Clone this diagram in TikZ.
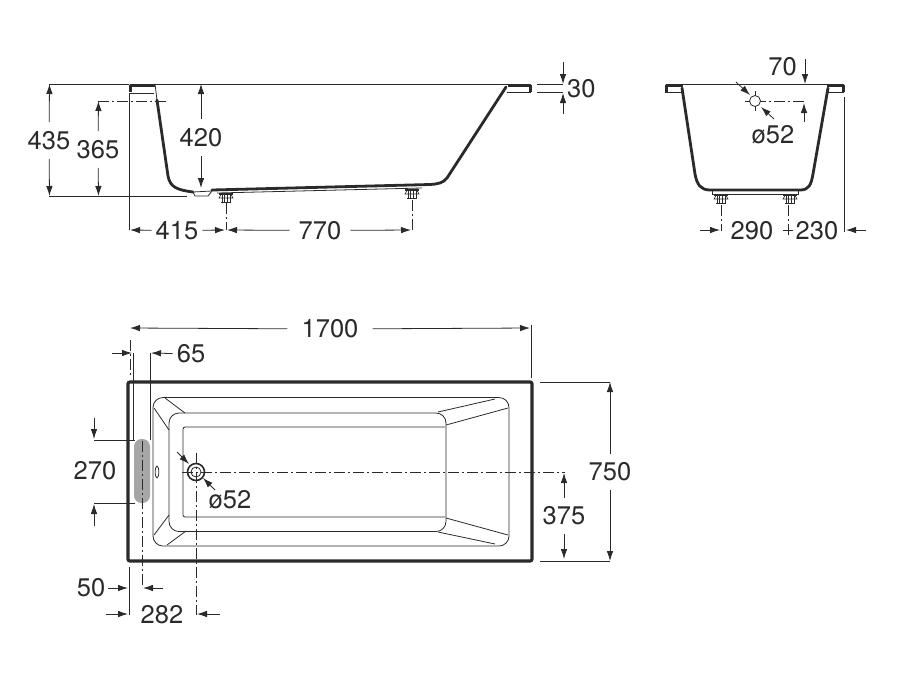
\documentclass[tikz,border=0pt]{standalone}
\usepackage{fontspec}
\setmainfont{TeX Gyre Heros}
\usetikzlibrary{arrows.meta}
\definecolor{inkline}{HTML}{2B2A29}
\definecolor{gripgray}{HTML}{A6A6A8}

\begin{document}
\begin{tikzpicture}[
    x=1pt, y=-1pt, color=inkline,
    thinline/.style={line width=0.8pt},
    hairline/.style={line width=0.6pt},
    wall/.style={line width=2.8pt, line cap=round},
    rim/.style={line width=3pt, line join=round},
    border/.style={line width=3.2pt, rounded corners=2pt},
    centerline/.style={line width=0.8pt, dash pattern=on 11pt off 3pt on 2pt off 3pt},
    dimarrow/.style={line width=0.8pt, -{Latex[length=10pt,width=6.5pt]}},
    dimlabel/.style={font=\fontsize{25.5}{25.5}\selectfont, inner xsep=4pt, inner ysep=9pt},
    bolt/.pic={
        \fill (-7,0) rectangle (7,1.5);
        \draw[hairline] (-5,1.5) -- (-7,5) -- (7,5) -- (5,1.5);
        \foreach \dx in {-4,-1.5,1.5,4} {\draw[hairline] (\dx,2) -- (\dx,9);}
        \draw[hairline] (-5,9) -- (5,9);
    }
]
\useasboundingbox (0,0) rectangle (912,681);

% Side view
\draw[rim] (155,85) -- (130,85) -- (130,92);
\draw[thinline] (129,93) -- (154,93);
\draw[thinline] (49,84) -- (129,84);
\draw[thinline] (155,84) -- (508,84);
\draw[thinline] (155,84) -- (157,100);
\draw[wall] (157,100) -- (168,176) .. controls (170,187) and (177,190) .. (193,192);
\draw[thinline] (193,192) -- (195,196) -- (208,196) -- (212,191);
\draw[thinline] (193,192) -- (212,191);
\draw[wall] (212,190) -- (430,184.5) .. controls (438,184) and (443,183) .. (447,178) -- (506,87);
\draw[rim] (508,85) -- (530.5,85) -- (530.5,92);
\draw[thinline] (507,92) -- (531,92);
\draw[thinline] (217,193) -- (422,188);
\pic at (226,193) {bolt};
\pic at (412,189) {bolt};

% End view
\draw[rim] (683,85) -- (666,85) -- (666,92);
\draw[thinline] (665,92) -- (682,92);
\draw[thinline] (683,84) -- (827,84);
\draw[wall] (682,88) -- (695,174) .. controls (697,185) and (701,190) .. (710,190) -- (800,190) .. controls (809,190) and (811,185) .. (813,174) -- (828,88);
\draw[rim] (827,85) -- (843.5,85) -- (843.5,92);
\draw[thinline] (828,92) -- (844,92);
\draw[thinline] (712,190) -- (712,194) -- (798,194) -- (798,190);
\pic at (721,194) {bolt};
\pic at (790,194) {bolt};

% Plan view
\draw[border] (128,382) rectangle (532,561);
\draw[thinline, rounded corners=10pt] (153,397.5) rectangle (509,546);
\draw[thinline, rounded corners=10pt] (169,413) rectangle (446,531.5);
\draw[thinline, rounded corners=2pt] (445,427) -- (183,427) -- (183,517) -- (445,517);
\draw[thinline] (165,398) -- (185,413);
\draw[thinline] (154,408) -- (169,430);
\draw[thinline] (154,535) -- (169,515);
\draw[thinline] (167,545) -- (186,531);
\draw[thinline] (438,412) -- (495,399);
\draw[thinline] (446,425) -- (508,408);
\draw[thinline] (446,518) -- (508,535);
\draw[thinline] (438,532) -- (495,544);
\draw[thinline] (157,472) ellipse[x radius=1.8pt, y radius=6pt];
\fill[gripgray, rounded corners=7.5pt] (134,439) rectangle (150,503);
\draw[line width=1.6pt] (196,472) circle[radius=8.5pt];
\draw[thinline] (196,472) circle[radius=5pt];

% Center lines
\draw[centerline] (98,101) -- (167,101);
\draw[centerline] (226,203) -- (226,230);
\draw[centerline] (412,200) -- (412,231);
\draw[centerline] (721,205) -- (721,231);
\draw[centerline] (788,205) -- (788,236);
\draw[centerline] (755,101) -- (806,101);
\draw[thinline] (745,101) -- (765,101);
\draw[thinline] (755,91) -- (755,111);
\draw[thinline, fill=white] (755,101) circle[radius=5.5pt];
\draw[centerline] (182,472) -- (565,472);
\draw[centerline] (196,453) -- (196,615);
\draw[centerline] (142,441) -- (142,585);
\draw[centerline] (130,340) -- (130,377);

% Extension lines
\draw[thinline] (129,93) -- (129,230);
\draw[thinline] (49,196) -- (187,196);
\draw[thinline] (537,84) -- (563,84);
\draw[thinline] (537,92) -- (563,92);
\draw[thinline] (783,230) -- (793,230);
\draw[thinline] (844,97) -- (844,232);
\draw[thinline] (133,353) -- (133,440);
\draw[thinline] (150,353) -- (150,440);
\draw[thinline] (94,440) -- (135,440);
\draw[thinline] (94,503) -- (135,503);
\draw[thinline] (129,567) -- (129,615);
\draw[thinline] (531,325) -- (531,378);
\draw[thinline] (540,382) -- (610,382);
\draw[thinline] (540,561) -- (610,561);

% Labels, side view
\node[dimlabel] (len435) at (49,140.5) {435};
\node[dimlabel] (len365) at (98,149.5) {365};
\node[dimlabel] (len420) at (201,137.5) {420};
\node[dimlabel] (len415) at (177,230.5) {415};
\node[dimlabel, inner xsep=9pt] (len770) at (320,230.5) {770};
\node[dimlabel, anchor=west, inner xsep=0pt] (len30) at (567,89) {30};

% Labels, end view
\node[dimlabel, anchor=east, inner xsep=0pt] (len70) at (797,67) {70};
\node[dimlabel] (dia52a) at (773,135) {ø52};
\node[dimlabel] (len290) at (752,230.5) {290};
\node[dimlabel] (len230) at (817,230.5) {230};

% Labels, plan view
\node[dimlabel, inner xsep=14pt] (len1700) at (330,329) {1700};
\node[dimlabel] (len65) at (191,354) {65};
\node[dimlabel] (len270) at (95,471) {270};
\node[dimlabel] (dia52b) at (230,500) {ø52};
\node[dimlabel] (len50) at (91,588) {50};
\node[dimlabel] (len282) at (162,615) {282};
\node[dimlabel] (len750) at (610,472) {750};
\node[dimlabel] (len375) at (564,516) {375};

% Arrows, side view
\draw[dimarrow] (len435) -- (49.5,84);
\draw[dimarrow] (len435) -- (49.5,196);
\draw[dimarrow] (len365) -- (98.5,101);
\draw[dimarrow] (len365) -- (98.5,196);
\draw[dimarrow] (len420) -- (201,84);
\draw[dimarrow] (len420) -- (201,188);
\draw[dimarrow] (len415) -- (130,230);
\draw[dimarrow] (len415) -- (225,230);
\draw[dimarrow] (len770) -- (227,230);
\draw[dimarrow] (len770) -- (411,230);
\draw[dimarrow] (563,62) -- (563,84);
\draw[dimarrow] (563,114) -- (563,93);

% Arrows, end view
\draw[dimarrow] (805,59) -- (805,84);
\draw[dimarrow] (804,122) -- (804,103);
\draw[dimarrow] (736,82) -- (750,95);
\draw[dimarrow] (774,119) -- (761,107);
\draw[dimarrow] (700,230) -- (720,230);
\draw[dimarrow] (866,230) -- (846,230);

% Arrows, plan view
\draw[dimarrow] (len1700) -- (130,328);
\draw[dimarrow] (len1700) -- (530,328);
\draw[dimarrow] (112,353) -- (132,353);
\draw[dimarrow] (len65) -- (151,353);
\draw[dimarrow] (94,418) -- (94,439);
\draw[dimarrow] (94,526) -- (94,504);
\draw[dimarrow] (177,452) -- (189,464);
\draw[dimarrow] (215,490) -- (203,478);
\draw[dimarrow] (108,588) -- (128,588);
\draw[dimarrow] (163,588) -- (143,588);
\draw[dimarrow] (106,614) -- (128,614);
\draw[dimarrow] (220,614) -- (197,614);
\draw[dimarrow] (len750) -- (610,382);
\draw[dimarrow] (len750) -- (610,561);
\draw[dimarrow] (len375) -- (564,473);
\draw[dimarrow] (len375) -- (564,559);

\end{tikzpicture}
\end{document}
